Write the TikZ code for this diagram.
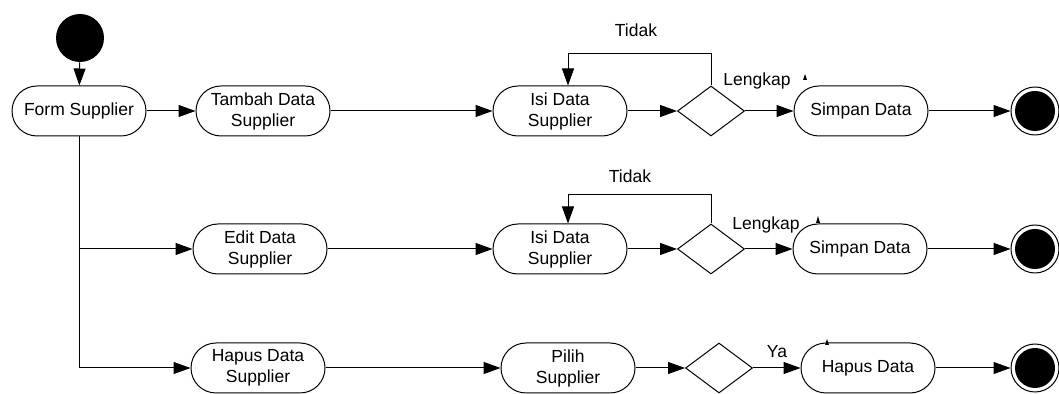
\documentclass[tikz,border=0pt]{standalone}
\usepackage{fontspec}
\setmainfont{Liberation Sans}
\usetikzlibrary{shapes.geometric, arrows.meta, positioning}

\begin{document}
\begin{tikzpicture}[
    x=0.5pt, y=-0.5pt,
    >={Triangle[length=8.5pt, width=6pt]},
    activity/.style={rectangle, rounded corners=12.5pt, draw, line width=0.5pt, minimum width=67pt, minimum height=25pt, align=center, inner sep=1pt, font=\fontsize{8.75}{10.5}\selectfont},
    decision/.style={diamond, draw, line width=0.5pt, minimum width=33.5pt, minimum height=25pt, inner sep=0pt},
    startnode/.style={circle, fill=black, minimum size=24pt, inner sep=0pt},
    endnode/.style={circle, draw, line width=0.5pt, minimum size=24pt, inner sep=0pt, path picture={\fill (path picture bounding box.center) circle (10pt);}},
    flow/.style={->, line width=0.5pt},
    guard/.style={font=\fontsize{8.75}{10.5}\selectfont}
]

\useasboundingbox (0,0) rectangle (1059,394);

% Start
\node[startnode] (start) at (80, 38) {};
\node[activity] (form) at (79, 111) {Form Supplier};

% Tambah
\node[activity] (tambah) at (263, 111) {Tambah Data\\Supplier};
\node[activity] (isi1) at (560, 111) {Isi Data\\Supplier};
\node[decision] (dec1) at (711, 111) {};
\node[activity] (simpan1) at (861, 111) {Simpan Data};
\node[endnode] (end1) at (1035, 111) {};

% Edit
\node[activity] (edit) at (260, 249) {Edit Data\\Supplier};
\node[activity] (isi2) at (560, 249) {Isi Data\\Supplier};
\node[decision] (dec2) at (711, 249) {};
\node[activity] (simpan2) at (860, 249) {Simpan Data};
\node[endnode] (end2) at (1035, 249) {};

% Hapus
\node[activity] (hapussup) at (258, 368) {Hapus Data\\Supplier};
\node[activity] (pilih) at (568, 368) {Pilih\\Supplier};
\node[decision] (dec3) at (719, 368) {};
\node[activity] (hapus) at (868, 368) {Hapus Data};
\node[endnode] (end3) at (1035, 368) {};

% Arrows
\draw[flow] (start) -- (form);
\draw[flow] (form) -- (tambah);
\draw[flow] (form.south) |- (hapussup);
\draw[flow] (form.south |- edit) -- (edit);

\draw[flow] (tambah) -- (isi1);
\draw[flow] (isi1) -- (dec1);
\draw[flow] (dec1) -- (simpan1);
\draw[flow] (simpan1) -- (end1);
\draw[flow] (dec1.north) -- ++(0,-32) -| ([xshift=4pt]isi1.north);

\draw[flow] (edit) -- (isi2);
\draw[flow] (isi2) -- (dec2);
\draw[flow] (dec2) -- (simpan2);
\draw[flow] (simpan2) -- (end2);
\draw[flow] (dec2.north) -- ++(0,-29) -| ([xshift=4pt]isi2.north);

\draw[flow] (hapussup) -- (pilih);
\draw[flow] (pilih) -- (dec3);
\draw[flow] (dec3) -- (hapus);
\draw[flow] (hapus) -- (end3);

% Guards
\node[guard] (tidak1) at (636, 30) {Tidak};
\node[guard] (lengkap1) at (757, 81) {Lengkap};
\node[guard] (tidak2) at (630, 176) {Tidak};
\node[guard] (lengkap2) at (766, 225) {Lengkap};
\node[guard] (ya) at (777, 352) {Ya};

% small marks
\fill (803,80) -- (805,74) -- (807,80) -- cycle;
\fill (816,223) -- (818,216) -- (820,223) -- cycle;
\fill (825,345) -- (827,339) -- (829,345) -- cycle;

\end{tikzpicture}
\end{document}
